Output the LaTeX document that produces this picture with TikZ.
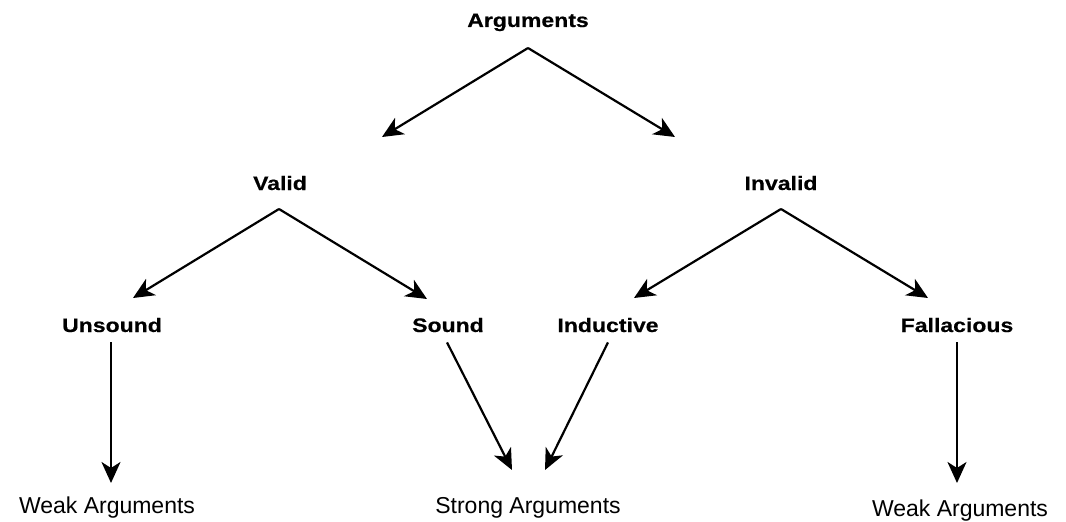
\documentclass[tikz,border=0pt]{standalone}
\usepackage{fontspec}
\setmainfont{Liberation Sans}
\newfontfamily\catfont[FakeStretch=1.18,FakeBold=0.5]{Liberation Sans Bold}
\usetikzlibrary{arrows.meta}

\begin{document}
\begin{tikzpicture}[x=1pt, y=-1pt,
  catnode/.style={font=\catfont\fontsize{19.5}{22}\selectfont, inner sep=0pt, anchor=base},
  leafnode/.style={font=\fontsize{23}{26}\selectfont, inner sep=0pt, anchor=base},
  arr/.style={line width=2.2pt, -{Stealth[length=21pt, width=19pt, inset=6pt]}}]
\useasboundingbox (0,0) rectangle (1066,522);

% category labels
\node[catnode] (args)  at (528,27)  {Arguments};
\node[catnode] (valid) at (280,190) {Valid};
\node[catnode] (inval) at (781,190) {Invalid};
\node[catnode] (unsnd) at (112,332) {Unsound};
\node[catnode] (sound) at (448,332) {Sound};
\node[catnode] (induc) at (608,332) {Inductive};
\node[catnode] (fallc) at (957,332) {Fallacious};

% outcome labels
\node[leafnode] (weakL)  at (107,513) {Weak Arguments};
\node[leafnode] (strong) at (528,513) {Strong Arguments};
\node[leafnode] (weakR)  at (960,516) {Weak Arguments};

% branch apexes and arrow tips
\coordinate (argsApex)  at (528,48);
\coordinate (validApex) at (279,209);
\coordinate (invalApex) at (781,209);
\coordinate (toValid)   at (382,137);
\coordinate (toInval)   at (675,137);
\coordinate (toUnsnd)   at (133,298);
\coordinate (toSound)   at (427,299);
\coordinate (toInduc)   at (634,298);
\coordinate (toFallc)   at (928,298);
\coordinate (weakLTip)  at (111,483);
\coordinate (strongL)   at (512,470);
\coordinate (strongR)   at (545,470);
\coordinate (weakRTip)  at (957,483);

% tree branches
\draw[arr] (argsApex) -- (toValid);
\draw[arr] (argsApex) -- (toInval);
\draw[arr] (validApex) -- (toUnsnd);
\draw[arr] (validApex) -- (toSound);
\draw[arr] (invalApex) -- (toInduc);
\draw[arr] (invalApex) -- (toFallc);

% leaves to outcomes
\draw[arr] (unsnd.south -| weakLTip) ++(0,10) -- (weakLTip);
\draw[arr] ([yshift=-10pt]sound.south) ++(-1,0) -- (strongL);
\draw[arr] ([yshift=-10pt]induc.south) -- (strongR);
\draw[arr] ([yshift=-10pt]fallc.south) -- (weakRTip);
\end{tikzpicture}
\end{document}
